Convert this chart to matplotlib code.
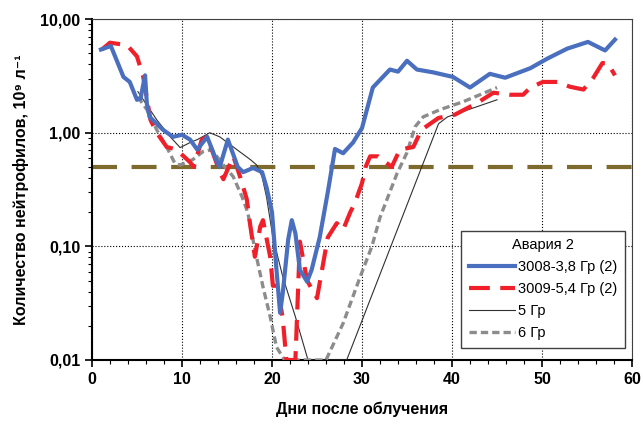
import matplotlib
matplotlib.use("Agg")
import matplotlib.pyplot as plt
from matplotlib.ticker import MultipleLocator, LogLocator, NullFormatter

plt.rcParams['font.family'] = ['Liberation Sans', 'DejaVu Sans']

# 3008-3,8 Гр (2)
blue_x = [1, 2.1, 3.5, 4.2, 5, 5.4, 5.9, 6.1, 6.4, 7.9, 9, 10, 10.9, 11.7, 12.8,
          13.9, 14.2, 15.1, 16.2, 16.8, 17.9, 18.9, 19.4, 20.0, 20.5, 20.9, 21.2,
          21.8, 22.2, 22.6, 23.1, 23.9, 24.4, 25.3, 26.2, 27, 27.9, 29, 30, 31.2,
          33.1, 34, 35, 36.1, 37.9, 40.1, 42, 44.2, 45.9, 48.7, 50.6, 52.8, 55.1,
          57, 58.1]
blue_y = [5.4, 5.8, 3.1, 2.8, 1.95, 2.0, 3.2, 1.8, 1.38, 1.06, 0.92, 0.96, 0.87,
          0.71, 0.92, 0.55, 0.5, 0.87, 0.5, 0.45, 0.49, 0.45, 0.33, 0.2, 0.062,
          0.026, 0.039, 0.115, 0.17, 0.13, 0.062, 0.049, 0.062, 0.12, 0.30, 0.72,
          0.66, 0.82, 1.1, 2.5, 3.6, 3.45, 4.3, 3.6, 3.4, 3.1, 2.5, 3.3, 3.05, 3.7,
          4.5, 5.5, 6.3, 5.3, 6.6]

# 3009-5,4 Гр (2)
red_x = [1.1, 2, 3.9, 5, 5.7, 6.1, 6.5, 7.2, 8.3, 9.4, 10.9, 11.3, 12.2, 12.8,
         14.2, 14.6, 15.7, 16.5, 17.2, 17.6, 18.1, 18.7, 19.0, 19.8, 20.1, 20.6,
         21.2, 21.6, 22.6, 23.1, 23.9, 25, 26.2, 27.2, 27.9, 28.7, 29.2, 30, 30.4,
         30.9, 31.8, 33.3, 34.2, 35.7, 36.6, 38.5, 40.3, 42.8, 44.6, 46.4, 47.9,
         48.7, 50.1, 51.7, 53.1, 54.6, 55.7, 56.7, 57.3, 58.1]
red_y = [5.4, 6.2, 5.9, 4.7, 3.1, 2.0, 1.3, 1.0, 0.75, 0.71, 0.55, 0.5, 0.87, 0.92,
         0.45, 0.39, 0.62, 0.4, 0.26, 0.15, 0.081, 0.15, 0.17, 0.081, 0.045, 0.045,
         0.023, 0.01, 0.01, 0.11, 0.05, 0.035, 0.12, 0.16, 0.14, 0.2, 0.24, 0.36,
         0.5, 0.62, 0.62, 0.5, 0.71, 0.75, 1.06, 1.35, 1.44, 1.83, 2.25, 2.16, 2.16,
         2.5, 2.8, 2.8, 2.54, 2.4, 3.05, 4.1, 4.1, 3.2]

# 5 Гр
g5_x = [5.1, 7.2, 8.7, 9.8, 10.9, 11.7, 13.1, 14.2, 16.1, 17.6, 18.3, 18.9, 19.4,
        20.1, 21.2, 22.6, 24, 28.3, 38.5, 39.5, 45]
g5_y = [2.3, 1.3, 0.92, 0.74, 0.82, 0.87, 1.0, 0.92, 0.71, 0.58, 0.52, 0.41, 0.27,
        0.12, 0.054, 0.024, 0.01, 0.01, 1.2, 1.38, 1.95]

# 6 Гр
g6_x = [5.1, 6.1, 7.2, 8.3, 9.2, 9.8, 11.2, 12.3, 13.3, 14.6, 15.7, 16.7, 17.3,
        18.1, 19, 19.8, 20.5, 21.4, 26, 27.9, 29.8, 31.1, 32, 33.9, 35, 35.9,
        36.8, 38.7, 41.2, 43.1, 45]
g6_y = [2.07, 1.6, 1.06, 0.75, 0.54, 0.52, 0.58, 0.68, 0.71, 0.52, 0.41, 0.27,
        0.2, 0.094, 0.044, 0.024, 0.013, 0.01, 0.01, 0.021, 0.054, 0.1, 0.18,
        0.44, 0.67, 1.13, 1.38, 1.6, 1.87, 2.16, 2.5]

threshold = 0.5
y_ticks = [0.01, 0.1, 1, 10]
y_labels = ['0,01', '0,10', '1,00', '10,00']

fig = plt.figure(figsize=(6.43, 4.25), dpi=100)
ax = fig.add_axes([0.143, 0.153, 0.840, 0.802])

ax.axhline(threshold, color='#7F6A2E', lw=3, dashes=(6, 3.5), zorder=2)
ax.plot(g5_x, g5_y, color='#303030', lw=0.8, label='5 Гр', zorder=3)
ax.plot(g6_x, g6_y, color='#8C8C8C', lw=2.4, dashes=(2.2, 1.2), label='6 Гр', zorder=3)
ax.plot(red_x, red_y, color='#F0202A', lw=3, dashes=(5, 2.5),
        label='3009-5,4 Гр (2)', zorder=4)
ax.plot(blue_x, blue_y, color='#4A6FBE', lw=3, label='3008-3,8 Гр (2)', zorder=5)

ax.set_yscale('log')
ax.set_xlim(0, 60)
ax.set_ylim(0.01, 10)
ax.set_xticks(range(0, 61, 10))
ax.xaxis.set_minor_locator(MultipleLocator(2))
ax.set_yticks(y_ticks)
ax.set_yticklabels(y_labels)
ax.yaxis.set_minor_locator(LogLocator(base=10, subs=range(2, 10)))
ax.yaxis.set_minor_formatter(NullFormatter())

ax.grid(True, which='major', color='black', ls=':', lw=0.8)
ax.tick_params(which='major', direction='out', length=5, width=1.2, labelsize=11.5)
ax.tick_params(which='minor', direction='out', length=3, width=0.8)
for lab in ax.get_xticklabels() + ax.get_yticklabels():
    lab.set_fontweight('bold')

ax.spines['left'].set_linewidth(1.5)
ax.spines['bottom'].set_linewidth(1.5)
ax.spines['top'].set_color('#404040')
ax.spines['right'].set_color('#404040')

ax.set_xlabel('Дни после облучения', fontsize=11.5, fontweight='bold', labelpad=11)
ax.set_ylabel('Количество нейтрофилов, 10⁹ л⁻¹', fontsize=11.5, fontweight='bold',
              labelpad=8)

handles, labels = ax.get_legend_handles_labels()
order = [3, 2, 0, 1]
leg = ax.legend([handles[i] for i in order], [labels[i] for i in order],
                title='Авария 2', loc='lower right', bbox_to_anchor=(1.0, 0.015),
                fontsize=10.5, title_fontsize=10.5, handlelength=3.2,
                handletextpad=0.2, labelspacing=0.55, fancybox=False,
                edgecolor='#404040', framealpha=1, borderpad=0.5)
leg.get_frame().set_linewidth(1.0)

fig.savefig('out.png', dpi=100)
